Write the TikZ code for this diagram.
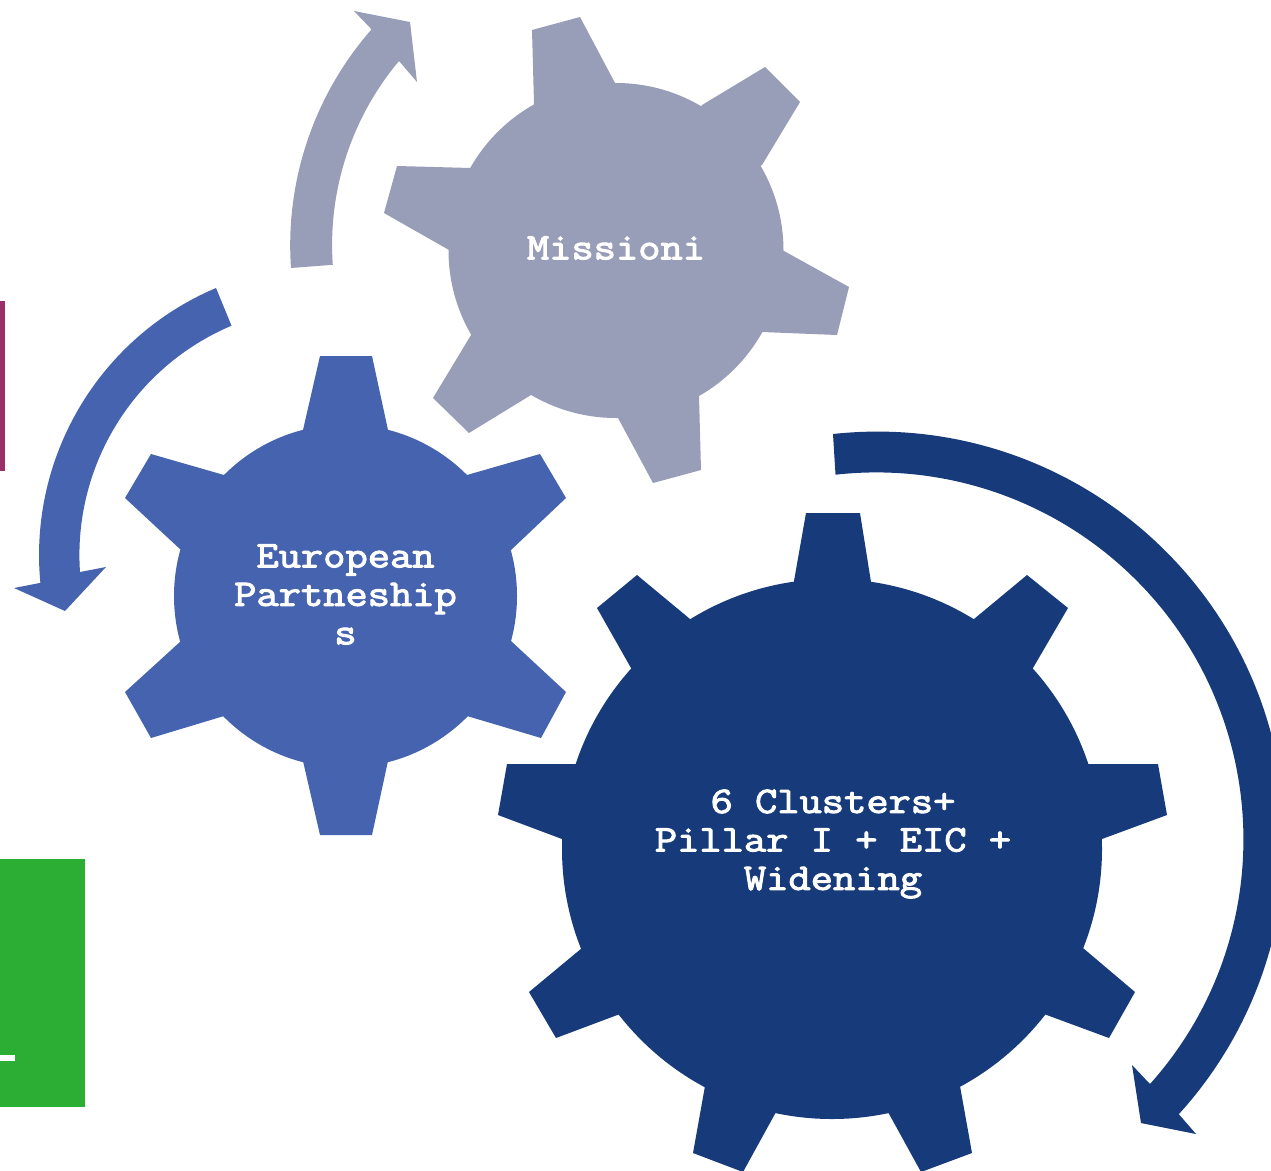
\documentclass[tikz,border=0pt]{standalone}
\usepackage{fontspec}
\setmonofont[FakeBold=2.8,FakeStretch=1.155]{Latin Modern Mono}
\definecolor{navy}{HTML}{173A7B}
\definecolor{midblue}{HTML}{4563AE}
\definecolor{greyblue}{HTML}{989DB8}
\definecolor{plum}{HTML}{9B3068}
\definecolor{leaf}{HTML}{2BAE33}
\tikzset{
  gearlabel/.style={text=white,font=\ttfamily\fontsize{21.3}{21.9}\selectfont,align=center,inner sep=0pt},
}
\begin{document}
\begin{tikzpicture}[x=0.02cm,y=-0.02cm]
\useasboundingbox (0,0) rectangle (1271,1170);
\clip (0,0) rectangle (1271,1170);
% edge panels
\fill[plum] (0,301) rectangle (5,471);
\fill[leaf] (0,859) rectangle (84.5,1107);
\fill[white] (0,1055) rectangle (15,1061);
% grey gear
\fill[greyblue] (616,250.5) circle[radius=167.5]
  (534,104)--(532,30)--(580,17)--(615,83)--(616,250)--cycle
  (702,105)--(765,67)--(800,102)--(762,165)--(616,250)--cycle
  (784,251)--(849,287)--(837,335)--(762,332)--(616,250)--cycle
  (699,396)--(701,470)--(653,483)--(618,418)--(616,250)--cycle
  (531,395)--(469,433)--(433,398)--(471,335)--(616,250)--cycle
  (449,250)--(384,213)--(397,166)--(471,168)--(616,250)--cycle;
% medium gear
\fill[midblue] (345.5,596) circle[radius=171.5]
  (303,430)--(320,356)--(372,356)--(388,430)--(345,596)--cycle
  (467,475)--(540,454)--(566,498)--(511,550)--(345,596)--cycle
  (511,641)--(566,692)--(541,738)--(467,716)--(345,596)--cycle
  (388,761)--(372,835)--(320,835)--(303,761)--(345,596)--cycle
  (224,716)--(151,738)--(125,692)--(181,641)--(345,596)--cycle
  (181,550)--(125,498)--(151,454)--(224,475)--(345,596)--cycle;
% big gear
\fill[navy] (832,849) circle[radius=270]
  (794,581)--(806,513)--(860,513)--(871,582)--(832,849)--cycle
  (974,619)--(1027,575)--(1068,608)--(1033,668)--(832,849)--cycle
  (1088,764)--(1158,764)--(1167,815)--(1102,839)--(832,849)--cycle
  (1083,948)--(1135,992)--(1109,1038)--(1044,1014)--(832,849)--cycle
  (960,1086)--(972,1153)--(921,1172)--(888,1112)--(832,849)--cycle
  (776,1112)--(743,1172)--(693,1153)--(705,1086)--(832,849)--cycle
  (620,1014)--(556,1038)--(529,992)--(582,948)--(832,849)--cycle
  (562,839)--(498,815)--(507,764)--(577,764)--(832,849)--cycle
  (631,668)--(597,608)--(637,575)--(690,619)--(832,849)--cycle;
% curved arrows
\fill[greyblue] (291,268) arc[start angle=176,end angle=221.3,radius=327]
  -- (354,11) -- (410,22) -- (417,82) -- (399,61)
  arc[start angle=220,end angle=176,radius=286] -- cycle;
\fill[midblue] (216,288) arc[start angle=247.06,end angle=174.5,radius=290]
  -- (14,588) -- (65,611) -- (106,567) -- (80,572)
  arc[start angle=176.1,end angle=247.1,radius=249] -- cycle;
\fill[navy] (833,434) arc[start angle=-96.2,end angle=42.3,radius=408]
  -- (1196,1134) -- (1141,1123) -- (1132,1065) -- (1150,1084)
  arc[start angle=41.8,end angle=-96.4,radius=367] -- cycle;
% labels
\node[gearlabel] (missioni) at (616,248) {Missioni};
\node[gearlabel] (partnerships) at (345.5,594.5) {European\\Partneship\\s};
\node[gearlabel] (clusters) at (833,844) {6 Clusters+\\Pillar I + EIC +\\Widening};
\end{tikzpicture}
\end{document}
